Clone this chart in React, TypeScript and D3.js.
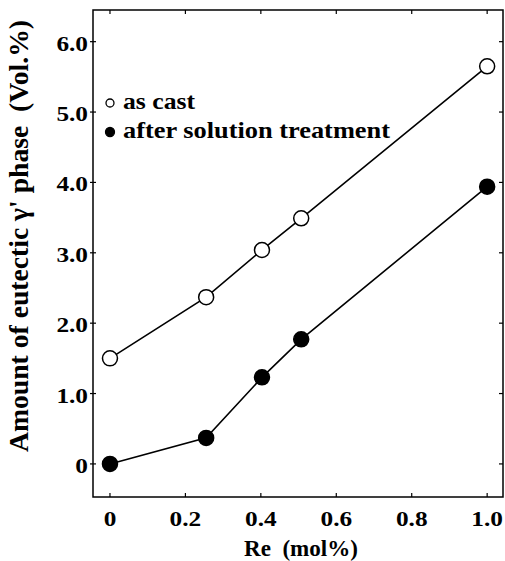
import React, { useRef, useEffect } from 'react';
import * as d3 from 'd3';

const reContent = [0, 0.255, 0.403, 0.507, 1.0];
const asCast = [1.5, 2.37, 3.04, 3.49, 5.65];
const afterTreatment = [0, 0.37, 1.23, 1.77, 3.94];
const xTicks = [0, 0.2, 0.4, 0.6, 0.8, 1.0];
const yTicks = [0, 1, 2, 3, 4, 5, 6];
const legendLabels = ['as cast', 'after solution treatment'];

const FONT = '"Liberation Serif", "Times New Roman", serif';

const App: React.FC = () => {
  const ref = useRef<SVGSVGElement>(null);

  useEffect(() => {
    if (!ref.current) return;
    const svg = d3.select(ref.current);
    svg.selectAll('*').remove();

    const left = 93, right = 503, top = 10, bottom = 497;

    const x = d3.scaleLinear().domain([-0.045, 1.042]).range([left, right]);
    const y = d3.scaleLinear().domain([-0.47, 6.45]).range([bottom, top]);

    // frame
    svg.append('rect')
      .attr('x', left).attr('y', top)
      .attr('width', right - left).attr('height', bottom - top)
      .attr('fill', 'none').attr('stroke', '#000').attr('stroke-width', 1.5);

    // ticks on all four sides
    const g = svg.append('g').attr('stroke', '#000').attr('stroke-width', 1.2);
    xTicks.forEach(t => {
      g.append('line').attr('x1', x(t)).attr('x2', x(t)).attr('y1', bottom).attr('y2', bottom - 4);
      g.append('line').attr('x1', x(t)).attr('x2', x(t)).attr('y1', top).attr('y2', top + 4);
    });
    yTicks.forEach(t => {
      g.append('line').attr('x1', left - 3).attr('x2', left + 3).attr('y1', y(t)).attr('y2', y(t));
      g.append('line').attr('x1', right).attr('x2', right - 4).attr('y1', y(t)).attr('y2', y(t));
    });

    const bold = (sel: d3.Selection<SVGTextElement, any, any, any>, size: number) =>
      sel.style('font-family', FONT).style('font-weight', 'bold').style('font-size', `${size}px`);

    const fmt = (d: number) => (d === 0 ? '0' : d.toFixed(1));

    // tick labels (slightly wide, like the scanned original)
    bold(svg.append('g').selectAll<SVGTextElement, number>('text').data(xTicks).enter().append('text')
      .attr('transform', d => `translate(${x(d)},526) scale(1.15,1)`)
      .attr('text-anchor', 'middle'), 22)
      .text(fmt);

    bold(svg.append('g').selectAll<SVGTextElement, number>('text').data(yTicks).enter().append('text')
      .attr('transform', d => `translate(88,${y(d) + 9}) scale(1.15,1)`)
      .attr('text-anchor', 'end'), 22)
      .text(fmt);

    // axis titles
    bold(svg.append('text')
      .attr('x', 244).attr('y', 556)
      .attr('textLength', 114).attr('lengthAdjust', 'spacingAndGlyphs')
      .style('white-space', 'pre'), 23)
      .text('Re  (mol%)');

    bold(svg.append('text')
      .attr('transform', `translate(28,236) rotate(-90)`)
      .attr('text-anchor', 'middle')
      .attr('textLength', 432).attr('lengthAdjust', 'spacingAndGlyphs')
      .style('white-space', 'pre'), 27)
      .text("Amount of eutectic \u03b3' phase  (Vol.%)");

    const line = d3.line<number>()
      .x((_, i) => x(reContent[i]))
      .y(d => y(d));

    const series = [
      { values: asCast, fill: '#fff' },
      { values: afterTreatment, fill: '#000' },
    ];

    series.forEach(s => {
      svg.append('path').datum(s.values)
        .attr('d', line)
        .attr('fill', 'none').attr('stroke', '#000').attr('stroke-width', 1.6);
      svg.append('g').selectAll('circle').data(s.values).enter().append('circle')
        .attr('cx', (_, i) => x(reContent[i]))
        .attr('cy', d => y(d))
        .attr('r', 7.5)
        .attr('fill', s.fill).attr('stroke', '#000').attr('stroke-width', 1.5);
    });

    // legend
    const legendWidths = [72, 267];
    legendLabels.forEach((lab, i) => {
      const ly = 103 + i * 29;
      svg.append('circle')
        .attr('cx', 110).attr('cy', ly).attr('r', i === 0 ? 4 : 4.5)
        .attr('fill', i === 0 ? '#fff' : '#000').attr('stroke', '#000').attr('stroke-width', 1.3);
      bold(svg.append('text')
        .attr('x', 123).attr('y', ly + 6)
        .attr('textLength', legendWidths[i]).attr('lengthAdjust', 'spacingAndGlyphs'), 24)
        .text(lab);
    });
  }, []);

  return (
    <svg ref={ref} width={505} height={561}
      style={{ position: 'absolute', left: 0, top: 0, background: '#fff' }} />
  );
};

export default App;
